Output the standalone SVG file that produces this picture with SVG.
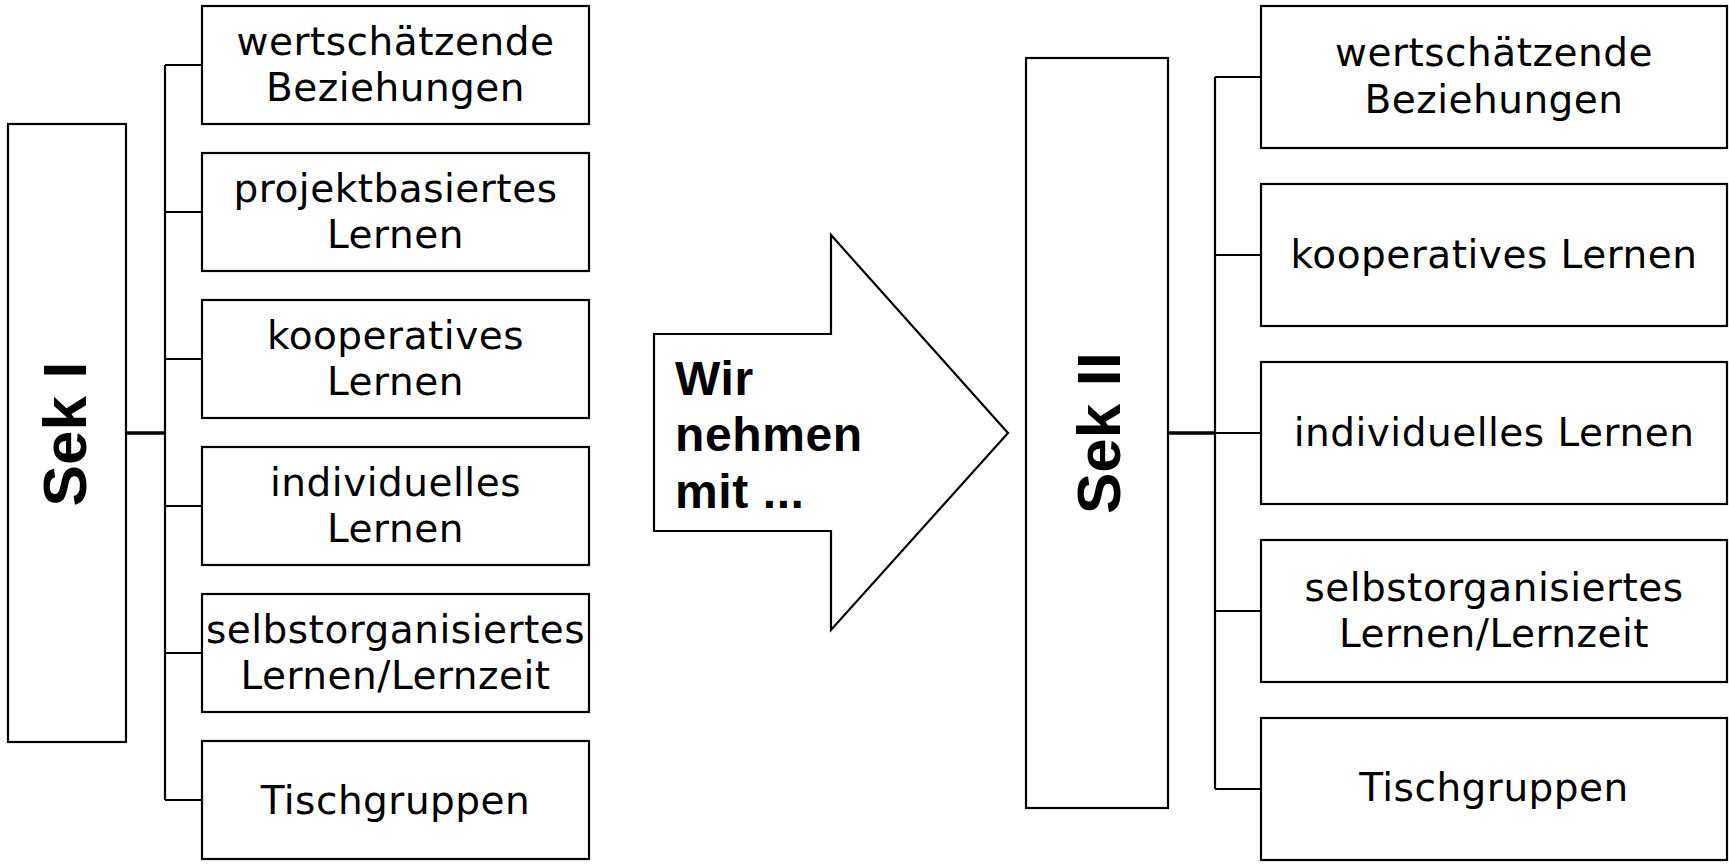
<svg xmlns="http://www.w3.org/2000/svg" width="1729" height="865" viewBox="0 0 1729 865">
<style>
.box{fill:#fff;stroke:#000;stroke-width:2.2}
.t{font-family:"DejaVu Sans","Liberation Sans",sans-serif;font-size:39px;letter-spacing:0.5px;fill:#000;text-anchor:middle}
.big{font-family:"Liberation Sans","Arial",sans-serif;font-size:62px;font-weight:bold;fill:#000;text-anchor:middle}
.arr{font-family:"Liberation Sans","Arial",sans-serif;font-size:48px;font-weight:bold;fill:#000;letter-spacing:0.6px}
.ln{fill:none;stroke:#000;stroke-width:2.2}
.main{fill:none;stroke:#000;stroke-width:3.5}
</style>
<rect width="1729" height="865" fill="#fff"/>
<g id="connectors">
<path class="main" d="M126 433H165"/>
<path class="ln" d="M165 65V800M165 65H202M165 212H202M165 359H202M165 506H202M165 653H202M165 800H202"/>
<path class="main" d="M1168 433H1215"/>
<path class="ln" d="M1215 77V789M1215 77H1261M1215 255H1261M1215 433H1261M1215 611H1261M1215 789H1261"/>
</g>
<g id="sek1">
<rect class="box" x="8" y="124" width="118" height="618"/>
<text class="big" transform="translate(86,434) rotate(-90)">Sek I</text>
</g>
<g id="l1"><rect class="box" x="202" y="6" width="387" height="118"/><text class="t" x="395.5" y="55">wertschätzende</text><text class="t" x="395.5" y="101">Beziehungen</text></g>
<g id="l2"><rect class="box" x="202" y="153" width="387" height="118"/><text class="t" x="395.5" y="202">projektbasiertes</text><text class="t" x="395.5" y="248">Lernen</text></g>
<g id="l3"><rect class="box" x="202" y="300" width="387" height="118"/><text class="t" x="395.5" y="349">kooperatives</text><text class="t" x="395.5" y="395">Lernen</text></g>
<g id="l4"><rect class="box" x="202" y="447" width="387" height="118"/><text class="t" x="395.5" y="496">individuelles</text><text class="t" x="395.5" y="542">Lernen</text></g>
<g id="l5"><rect class="box" x="202" y="594" width="387" height="118"/><text class="t" x="395.5" y="643">selbstorganisiertes</text><text class="t" x="395.5" y="689">Lernen/Lernzeit</text></g>
<g id="l6"><rect class="box" x="202" y="741" width="387" height="118"/><text class="t" x="395.5" y="814">Tischgruppen</text></g>
<g id="arrow">
<polygon class="box" points="654,334 831,334 831,235 1008,433 831,630 831,531 654,531"/>
<text class="arr" x="675" y="395">Wir</text>
<text class="arr" x="675" y="451">nehmen</text>
<text class="arr" x="675" y="508">mit ...</text>
</g>
<g id="sek2">
<rect class="box" x="1026" y="58" width="142" height="750"/>
<text class="big" transform="translate(1120,433) rotate(-90)">Sek II</text>
</g>
<g id="r1"><rect class="box" x="1261" y="6" width="466" height="142"/><text class="t" x="1494" y="66">wertschätzende</text><text class="t" x="1494" y="113">Beziehungen</text></g>
<g id="r2"><rect class="box" x="1261" y="184" width="466" height="142"/><text class="t" x="1494" y="268">kooperatives Lernen</text></g>
<g id="r3"><rect class="box" x="1261" y="362" width="466" height="142"/><text class="t" x="1494" y="446">individuelles Lernen</text></g>
<g id="r4"><rect class="box" x="1261" y="540" width="466" height="142"/><text class="t" x="1494" y="601">selbstorganisiertes</text><text class="t" x="1494" y="647">Lernen/Lernzeit</text></g>
<g id="r5"><rect class="box" x="1261" y="718" width="466" height="142"/><text class="t" x="1494" y="801">Tischgruppen</text></g>
</svg>
